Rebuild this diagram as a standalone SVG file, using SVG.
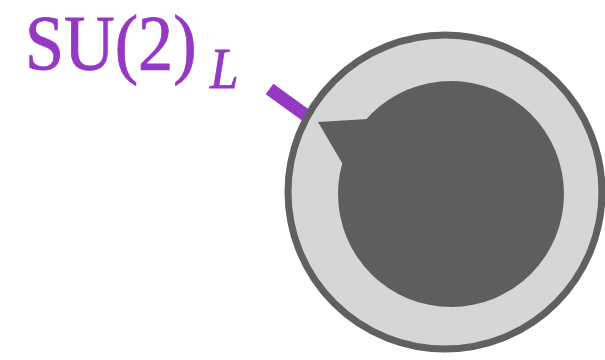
<svg xmlns="http://www.w3.org/2000/svg" width="605" height="360" viewBox="0 0 605 360">
<style>
.lbl{fill:#9538c4;stroke:#9538c4;stroke-width:0.8;font-family:"Liberation Serif","Times New Roman","DejaVu Serif",serif}
</style>
<rect width="605" height="360" fill="#ffffff"/>
<g id="label">
<text class="lbl" transform="translate(25,69) scale(0.9,1)" x="0" y="0" font-size="78">SU(2)<tspan font-style="italic" font-size="57" dx="15" dy="19">L</tspan></text>
</g>
<g id="connectors">
<line x1="269.5" y1="89" x2="309" y2="117.5" stroke="#9538c4" stroke-width="13"/>
</g>
<g id="sphere">
<circle cx="445" cy="192" r="157" fill="#d6d6d6" stroke="#606060" stroke-width="7"/>
<circle cx="451" cy="194" r="113" fill="#5e5e5e"/>
<polygon points="318,122 368,119 345,168" fill="#5e5e5e"/>
</g>
</svg>
